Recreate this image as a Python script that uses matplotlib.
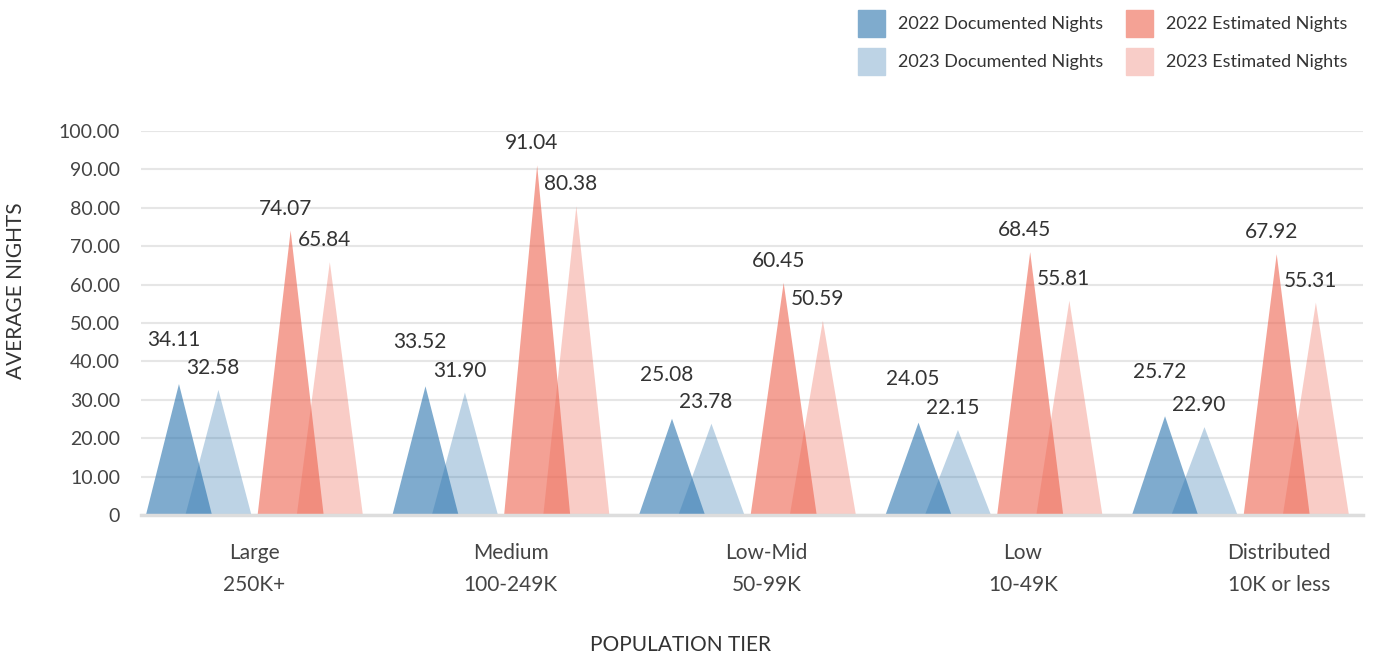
import numpy as np
import matplotlib
matplotlib.use("Agg")
import matplotlib.pyplot as plt
from matplotlib.patches import Rectangle

plt.rcParams['font.family'] = ['Lato', 'DejaVu Sans']

# DATA
tiers = ["Large\n250K+", "Medium\n100-249K", "Low-Mid\n50-99K", "Low\n10-49K", "Distributed\n10K or less"]
series = ["2022 Documented Nights", "2023 Documented Nights", "2022 Estimated Nights", "2023 Estimated Nights"]
doc_2022 = [34.11, 33.52, 25.08, 24.05, 25.72]
doc_2023 = [32.58, 31.90, 23.78, 22.15, 22.90]
est_2022 = [74.07, 91.04, 60.45, 68.45, 67.92]
est_2023 = [65.84, 80.38, 50.59, 55.81, 55.31]
yticks = [0, 10, 20, 30, 40, 50, 60, 70, 80, 90, 100]

# STYLE
colors = [(0.165, 0.455, 0.682, 0.6), (0.165, 0.455, 0.682, 0.31),
          (0.93, 0.39, 0.31, 0.6), (0.93, 0.39, 0.31, 0.32)]
swatch = ["#7fabcd", "#bdd3e5", "#f4a295", "#f8cdc8"]
offsets = [-0.306, -0.146, 0.147, 0.306]
half_w = 0.134
txt = "#333333"
W, H = 1373, 658

fig = plt.figure(figsize=(13.73, 6.58), dpi=100)
ax = fig.add_axes([0.1027, 0.2173, 0.89, 0.5836])

x = np.arange(len(tiers))
values = [doc_2022, doc_2023, est_2022, est_2023]

#TRIANGLES + LABELS
for s, vals in enumerate(values):
    for i, v in enumerate(vals):
        cx = x[i] + offsets[s]
        ax.fill([cx - half_w, cx, cx + half_w], [0, v, 0], color=colors[s], lw=0, zorder=3)
        # documented 2022 label is lifted so it clears its neighbour
        lift = 44 if s == 0 else 22
        ax.annotate(f"{v:.2f}", (cx, v), xytext=(-4, lift * 0.72), textcoords="offset points",
                    ha="center", va="center", fontsize=15, color=txt, zorder=5,
                    annotation_clip=False)

ax.set_xlim(-0.46, 4.497)
ax.set_ylim(0, 100)
ax.set_yticks(yticks)
ax.set_yticklabels(["0"] + [f"{t:.2f}" for t in yticks[1:]])
ax.set_xticks(x * 1.039)
ax.set_xticklabels(tiers, linespacing=1.75)
ax.tick_params(axis="y", length=0, pad=15, labelsize=14, labelcolor="#444444")
ax.tick_params(axis="x", length=0, pad=20, labelsize=15, labelcolor="#444444")

ax.grid(axis="y", color="#e6e6e6", lw=1.5, zorder=0)
for sp in ["top", "right", "left"]:
    ax.spines[sp].set_visible(False)
ax.spines["bottom"].set_color("#dddddd")
ax.spines["bottom"].set_linewidth(2.5)
ax.spines["bottom"].set_zorder(4)

fig.text(16 / W, 1 - 291 / H, "AVERAGE NIGHTS", rotation=90, ha="center", va="center",
         fontsize=15, color=txt)
fig.text(681 / W, 1 - 645 / H, "POPULATION TIER", ha="center", va="center",
         fontsize=15, color=txt)

#LEGEND (manual, two columns)
leg_pos = [(858, 10), (858, 48), (1126, 10), (1126, 48)]
for s in range(4):
    px, py = leg_pos[s]
    fig.patches.append(Rectangle((px / W, 1 - (py + 27) / H), 27 / W, 27 / H,
                                 transform=fig.transFigure, color=swatch[s]))
    fig.text((px + 40) / W, 1 - (py + 14) / H, series[s], ha="left", va="center",
             fontsize=13, color=txt)

fig.savefig("out.png", dpi=100)
